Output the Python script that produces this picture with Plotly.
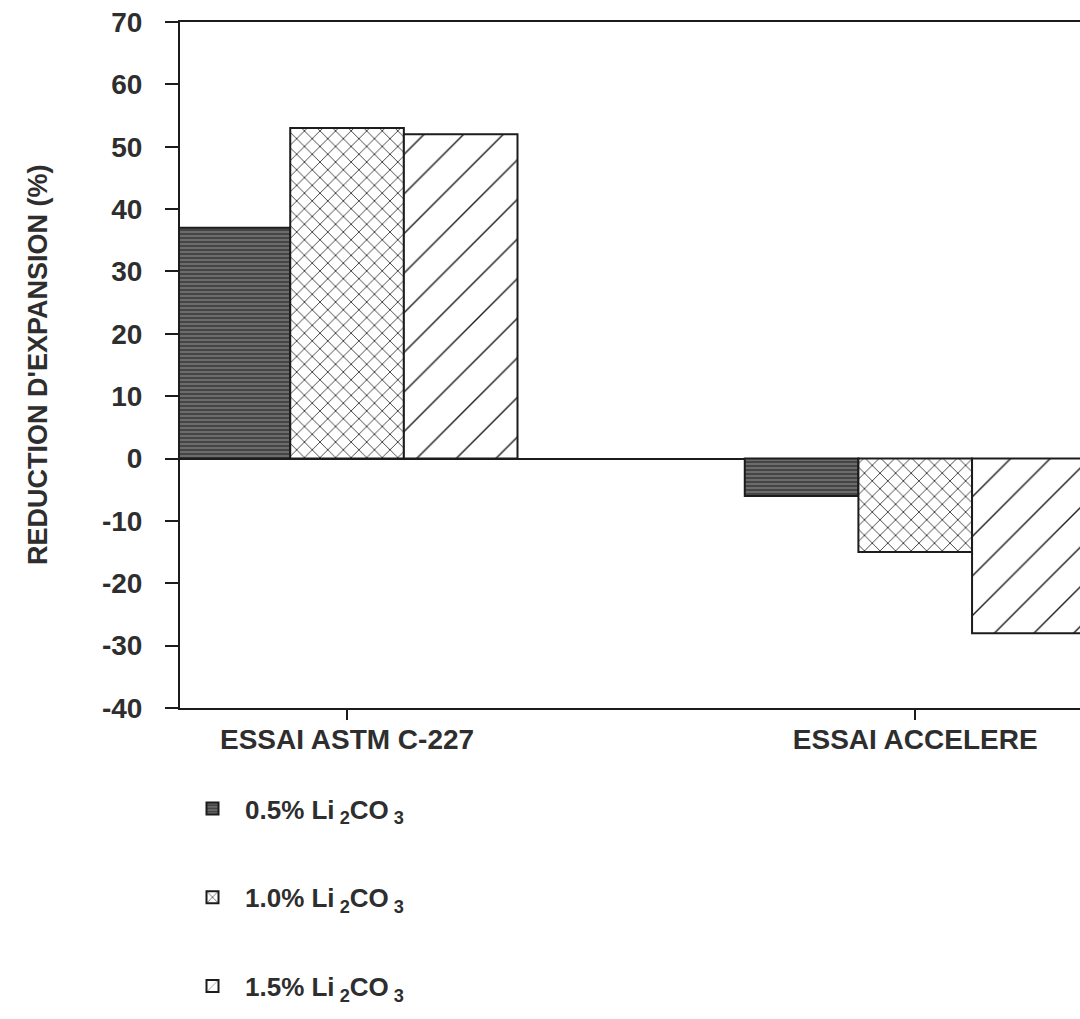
import plotly.graph_objects as go

# Test categories and expansion reduction (%) per lithium carbonate dosage
categories = ["ESSAI ASTM C-227", "ESSAI ACCELERE"]
series_names = [
    "0.5% Li<sub> 2</sub>CO<sub> 3</sub>",
    "1.0% Li<sub> 2</sub>CO<sub> 3</sub>",
    "1.5% Li<sub> 2</sub>CO<sub> 3</sub>",
]
dose_05 = [37, -6]
dose_10 = [53, -15]
dose_15 = [52, -28]
y_ticks = [-40, -30, -20, -10, 0, 10, 20, 30, 40, 50, 60, 70]
y_title = "REDUCTION D'EXPANSION (%)"

TEXT = "#2e2e2e"
LINE = "#1c1c1c"
FONT = "Liberation Sans"

x_pos = [0, 1]
bar_w = 0.2
offsets = [-0.3, -0.1, 0.1]

fills = [
    dict(color="#4a4a4a",
         pattern=dict(shape="-", fgcolor="#868686", bgcolor="#454545",
                      size=4, solidity=0.3, fillmode="replace")),
    dict(color="white",
         pattern=dict(shape="x", fgcolor=LINE, bgcolor="white",
                      size=11, solidity=0.14, fillmode="replace")),
    dict(color="white",
         pattern=dict(shape="/", fgcolor=LINE, bgcolor="white",
                      size=28, solidity=0.05, fillmode="replace")),
]

fig = go.Figure()
for i, (name, vals) in enumerate(zip(series_names, [dose_05, dose_10, dose_15])):
    fig.add_trace(go.Bar(
        x=x_pos, y=vals, name=name,
        width=bar_w, offset=offsets[i],
        marker=dict(color=fills[i]["color"], pattern=fills[i]["pattern"],
                    line=dict(color=LINE, width=2)),
        legendgroup=f"g{i}",
    ))

# Rotated y-axis caption placed in the left margin
fig.add_annotation(
    text=y_title, textangle=-90,
    xref="paper", yref="paper", x=0, y=0.5,
    xshift=-142, xanchor="center", yanchor="middle", showarrow=False,
    font=dict(family=FONT, size=27, color=TEXT, weight="bold"),
)

fig.update_layout(
    width=1080, height=1019,
    margin=dict(l=180, r=0, t=22, b=311, autoexpand=False),
    plot_bgcolor="white", paper_bgcolor="white",
    barmode="overlay",
    font=dict(family=FONT, color=TEXT, size=26, weight="bold"),
    showlegend=True,
    legend=dict(
        xref="container", yref="container",
        x=180 / 1080, y=1 - 785 / 1019, xanchor="left", yanchor="top",
        traceorder="grouped", tracegroupgap=52, itemwidth=55,
        font=dict(family=FONT, size=26, color=TEXT, weight="bold"),
        bgcolor="rgba(0,0,0,0)",
    ),
    xaxis=dict(
        range=[-0.294, 1.29], automargin=False,
        tickmode="array", tickvals=x_pos, ticktext=categories,
        ticks="outside", ticklen=10, tickwidth=1.5, tickcolor=LINE,
        showline=True, linecolor=LINE, linewidth=2, mirror=True,
        showgrid=False, zeroline=False,
        tickfont=dict(family=FONT, size=28, color=TEXT, weight="bold"),
        ticklabelstandoff=-5,
    ),
    yaxis=dict(
        range=[-40, 70], automargin=False,
        tickmode="array", tickvals=y_ticks, ticktext=[str(v) for v in y_ticks],
        ticks="outside", ticklen=13, tickwidth=1.5, tickcolor=LINE,
        showline=True, linecolor=LINE, linewidth=2,
        showgrid=False,
        zeroline=True, zerolinecolor=LINE, zerolinewidth=2,
        tickfont=dict(family=FONT, size=28, color=TEXT, weight="bold"),
        ticklabelstandoff=17,
    ),
)

fig.write_html("out.html")
